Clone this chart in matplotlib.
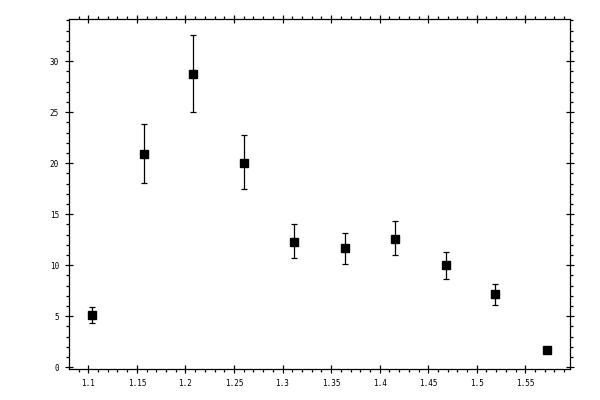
import matplotlib
matplotlib.use("Agg")
import matplotlib.pyplot as plt
from matplotlib.ticker import MultipleLocator, FormatStrFormatter
import numpy as np

x = [1.104, 1.157, 1.208, 1.260, 1.312, 1.364, 1.416, 1.468, 1.519, 1.572]
y = [5.1, 20.85, 28.7, 20.05, 12.3, 11.65, 12.6, 10.0, 7.15, 1.7]
err_up = [0.8, 2.95, 3.85, 2.7, 1.7, 1.55, 1.7, 1.25, 1.0, 0.0]
err_lo = [0.8, 2.8, 3.7, 2.6, 1.6, 1.5, 1.6, 1.35, 1.0, 0.0]

fig = plt.figure(figsize=(6, 4), dpi=100)
ax = fig.add_axes([0.1155, 0.0775, 0.8345, 0.8743])

ax.errorbar(x, y, yerr=[err_lo, err_up], fmt='s', color='black', ms=5.2,
            ecolor='black', elinewidth=0.9, capsize=1.9, capthick=0.9)

ax.set_xlim(1.0804, 1.596)
ax.set_ylim(-0.17, 34.1)

ax.xaxis.set_major_locator(MultipleLocator(0.05))
ax.xaxis.set_minor_locator(MultipleLocator(0.01))
ax.yaxis.set_major_locator(MultipleLocator(5))
ax.yaxis.set_minor_locator(MultipleLocator(1))

def fmtx(v, pos):
    s = ('%.2f' % v).rstrip('0').rstrip('.')
    return s
ax.xaxis.set_major_formatter(plt.FuncFormatter(fmtx))
ax.yaxis.set_major_formatter(FormatStrFormatter('%d'))

for sp in ax.spines.values():
    sp.set_linewidth(0.9)

ax.tick_params(which='major', direction='inout', length=6, width=0.9,
               top=True, right=True, labelsize=5.5, pad=4.5)
ax.tick_params(which='minor', direction='out', length=2.4, width=0.9,
               top=True, right=True)
for lab in ax.get_xticklabels() + ax.get_yticklabels():
    lab.set_family('DejaVu Sans Mono')

fig.savefig('out.png', dpi=100)
